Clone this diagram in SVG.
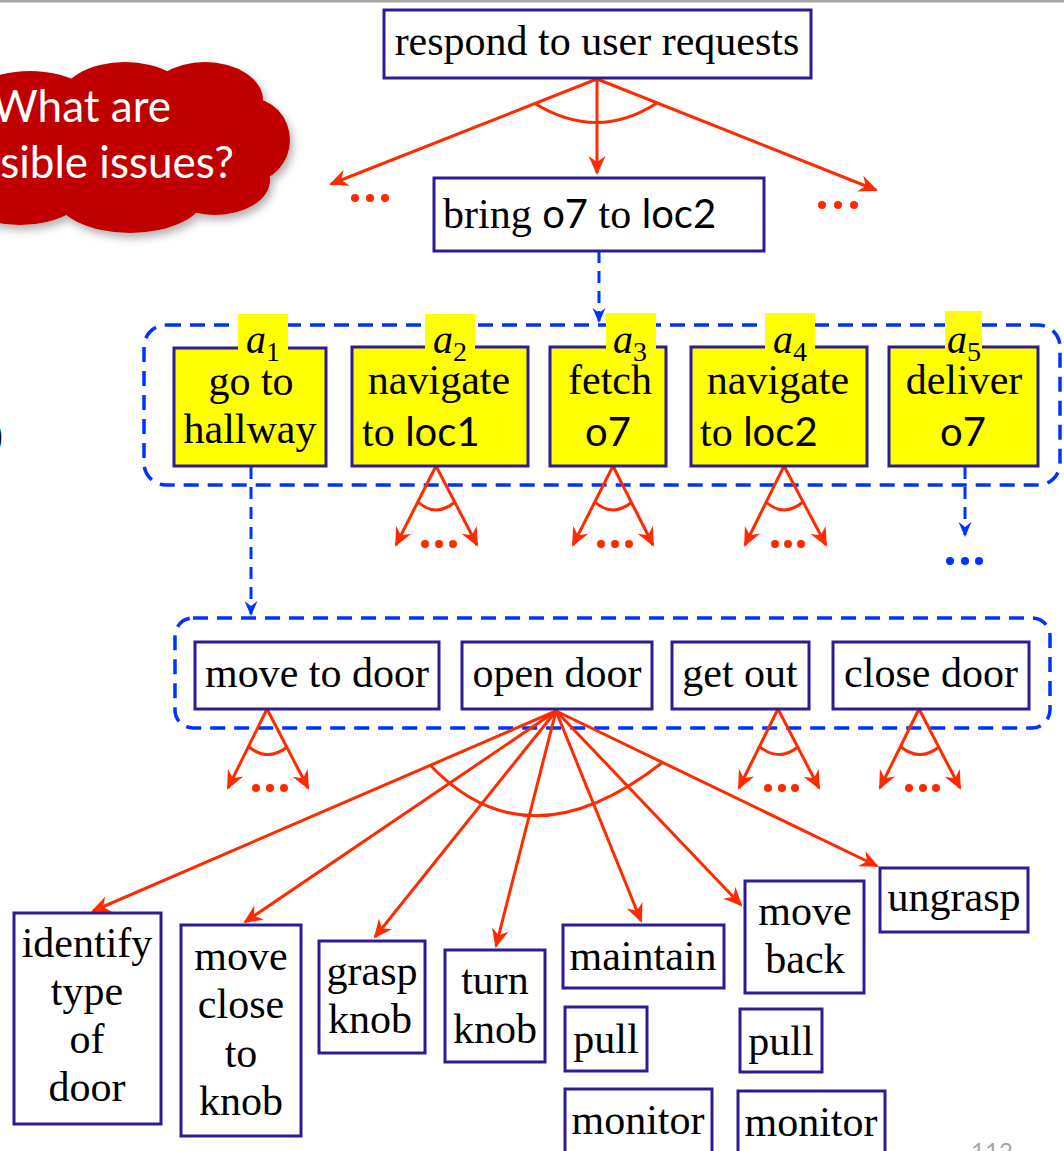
<svg xmlns="http://www.w3.org/2000/svg" width="1064" height="1151" viewBox="0 0 1064 1151">
  <style>
    .box { fill: #ffffff; stroke: #2e1c96; stroke-width: 3; }
    .ybox { fill: #ffff00; stroke: #2e1c96; stroke-width: 3; }
    .tab { fill: #ffff00; }
    .t { font-family: "Liberation Serif", "Times New Roman", serif; font-size: 42px; fill: #000; }
    .c { text-anchor: middle; }
    .s { font-family: Lato, "Liberation Sans", sans-serif; font-size: 40px; }
    .lab { font-family: "Liberation Serif", serif; font-size: 40px; fill: #000; }
    .red { stroke: #ff2a00; stroke-width: 3; fill: none; }
    .arr { marker-end: url(#ahR); }
    .dots { fill: #ff2a00; }
    .bdots { fill: #0033ff; }
    .blue { stroke: #0033ff; stroke-width: 3.5; fill: none; stroke-dasharray: 15 9; }
    .barr { stroke: #0033ff; stroke-width: 3; fill: none; stroke-dasharray: 12 8; marker-end: url(#ahB); }
    .cloudtxt { font-family: Lato, "Liberation Sans", sans-serif; font-size: 44px; fill: #ffffff; text-anchor: end; }
  </style>
  <defs>
    <marker id="ahR" markerUnits="userSpaceOnUse" markerWidth="26" markerHeight="22" viewBox="-20 -11 24 22" refX="0" refY="0" orient="auto">
      <path d="M2,0 L-17,-8.5 L-11,0 L-17,8.5 Z" fill="#ff2a00"/>
    </marker>
    <marker id="ahB" markerUnits="userSpaceOnUse" markerWidth="22" markerHeight="18" viewBox="-16 -9 20 18" refX="0" refY="0" orient="auto">
      <path d="M2,0 L-13,-6.5 L-8,0 L-13,6.5 Z" fill="#0033ff"/>
    </marker>
    <filter id="shadow" x="-20%" y="-20%" width="140%" height="150%">
      <feDropShadow dx="3" dy="5" stdDeviation="4" flood-color="#000" flood-opacity="0.3"/>
    </filter>
  </defs>

  <rect x="0" y="0" width="1064" height="1151" fill="#ffffff"/>
  <rect x="0" y="0" width="1064" height="2.5" fill="#a6a6a6"/>

  <!-- callout cloud -->
  <g id="cloud">
    <g fill="#c00000" filter="url(#shadow)">
      <ellipse cx="30" cy="118" rx="75" ry="47"/>
      <ellipse cx="125" cy="100" rx="65" ry="38"/>
      <ellipse cx="205" cy="100" rx="58" ry="38"/>
      <ellipse cx="250" cy="140" rx="40" ry="42"/>
      <ellipse cx="215" cy="180" rx="55" ry="35"/>
      <ellipse cx="130" cy="195" rx="75" ry="38"/>
      <ellipse cx="20" cy="185" rx="70" ry="40"/>
      <rect x="0" y="100" width="250" height="100"/>
    </g>
    <text class="cloudtxt" x="171" y="122">What are</text>
    <text class="cloudtxt" x="234" y="178">sible issues?</text>
  </g>

  <text class="t" x="-11" y="448">)</text>

  <!-- containers -->
  <g id="plan-container">
    <rect x="144" y="325" width="916" height="160" rx="22" fill="#ffff00" class="blue"/>
  </g>
  <g id="refine-container">
    <rect x="175" y="618" width="875" height="110" rx="18" class="blue"/>
  </g>

  <!-- connectors -->
  <g id="connectors">
    <!-- top method -->
    <line class="red arr" x1="597" y1="79" x2="331" y2="184"/>
    <line class="red arr" x1="597" y1="79" x2="597" y2="173"/>
    <line class="red arr" x1="597" y1="79" x2="876" y2="190"/>
    <path class="red" d="M534,103 Q597,142 657,103"/>
    <circle class="dots" cx="355" cy="198" r="4"/><circle class="dots" cx="370" cy="198" r="4"/><circle class="dots" cx="385" cy="198" r="4"/>
    <circle class="dots" cx="822" cy="205" r="4"/><circle class="dots" cx="838" cy="205" r="4"/><circle class="dots" cx="854" cy="205" r="4"/>

    <line class="barr" x1="599" y1="251" x2="599" y2="321"/>

    <!-- fans under a2, a3, a4 -->
    <line class="red arr" x1="436" y1="466" x2="396" y2="545"/>
    <line class="red arr" x1="436" y1="466" x2="477" y2="545"/>
    <path class="red" d="M418,502 Q436,518 455,502"/>
    <circle class="dots" cx="425" cy="544" r="4"/><circle class="dots" cx="439" cy="544" r="4"/><circle class="dots" cx="453" cy="544" r="4"/>

    <line class="red arr" x1="613" y1="466" x2="573" y2="545"/>
    <line class="red arr" x1="613" y1="466" x2="653" y2="545"/>
    <path class="red" d="M595,502 Q613,518 632,502"/>
    <circle class="dots" cx="601" cy="544" r="4"/><circle class="dots" cx="615" cy="544" r="4"/><circle class="dots" cx="629" cy="544" r="4"/>

    <line class="red arr" x1="784" y1="466" x2="745" y2="545"/>
    <line class="red arr" x1="784" y1="466" x2="826" y2="545"/>
    <path class="red" d="M766,502 Q784,518 803,502"/>
    <circle class="dots" cx="775" cy="544" r="4"/><circle class="dots" cx="788" cy="544" r="4"/><circle class="dots" cx="801" cy="544" r="4"/>

    <!-- a5 continues -->
    <line class="barr" x1="965" y1="467" x2="965" y2="535"/>
    <circle class="bdots" cx="950" cy="561" r="4"/><circle class="bdots" cx="965" cy="561" r="4"/><circle class="bdots" cx="979" cy="561" r="4"/>

    <!-- a1 refinement -->
    <line class="barr" x1="251" y1="467" x2="251" y2="614"/>

    <!-- fans under move to door, get out, close door -->
    <line class="red arr" x1="267" y1="709" x2="228" y2="788"/>
    <line class="red arr" x1="267" y1="709" x2="308" y2="788"/>
    <path class="red" d="M249,747 Q268,762 287,747"/>
    <circle class="dots" cx="256" cy="788" r="4"/><circle class="dots" cx="270" cy="788" r="4"/><circle class="dots" cx="284" cy="788" r="4"/>

    <line class="red arr" x1="778" y1="709" x2="739" y2="788"/>
    <line class="red arr" x1="778" y1="709" x2="819" y2="788"/>
    <path class="red" d="M760,747 Q779,762 798,747"/>
    <circle class="dots" cx="768" cy="788" r="4"/><circle class="dots" cx="782" cy="788" r="4"/><circle class="dots" cx="795" cy="788" r="4"/>

    <line class="red arr" x1="919" y1="709" x2="880" y2="788"/>
    <line class="red arr" x1="919" y1="709" x2="960" y2="788"/>
    <path class="red" d="M901,747 Q920,762 939,747"/>
    <circle class="dots" cx="909" cy="788" r="4"/><circle class="dots" cx="923" cy="788" r="4"/><circle class="dots" cx="936" cy="788" r="4"/>

    <!-- open door method -->
    <line class="red arr" x1="556" y1="711" x2="93" y2="911"/>
    <line class="red arr" x1="556" y1="711" x2="245" y2="922"/>
    <line class="red arr" x1="556" y1="711" x2="375" y2="937"/>
    <line class="red arr" x1="556" y1="711" x2="496" y2="946"/>
    <line class="red arr" x1="556" y1="711" x2="641" y2="921"/>
    <line class="red arr" x1="556" y1="711" x2="741" y2="905"/>
    <line class="red arr" x1="556" y1="711" x2="877" y2="866"/>
    <path class="red" d="M430,765 Q528,868 663,762"/>
  </g>

  <!-- nodes -->
  <g id="n-respond">
    <rect class="box" x="384" y="10" width="427" height="68"/>
    <text class="t c" x="597" y="55">respond to user requests</text>
  </g>
  <g id="n-bring">
    <rect class="box" x="434" y="178" width="330" height="73"/>
    <text class="t" x="443" y="228"><tspan>bring </tspan><tspan class="s">o7</tspan><tspan> to </tspan><tspan class="s">loc2</tspan></text>
  </g>

  <g id="n-a1">
    <rect class="ybox" x="174" y="348" width="152" height="118"/>
    <rect class="tab" x="238" y="314" width="50" height="38"/>
    <text class="lab" x="246" y="353"><tspan font-style="italic">a</tspan><tspan font-size="28" dy="8">1</tspan></text>
    <text class="t c" x="251" y="395">go to</text>
    <text class="t c" x="250" y="443">hallway</text>
  </g>
  <g id="n-a2">
    <rect class="ybox" x="352" y="347" width="176" height="119"/>
    <rect class="tab" x="425" y="314" width="50" height="37"/>
    <text class="lab" x="433" y="353"><tspan font-style="italic">a</tspan><tspan font-size="28" dy="8">2</tspan></text>
    <text class="t c" x="439" y="394">navigate</text>
    <text class="t" x="362" y="446"><tspan>to </tspan><tspan class="s">loc1</tspan></text>
  </g>
  <g id="n-a3">
    <rect class="ybox" x="550" y="347" width="116" height="119"/>
    <rect class="tab" x="606" y="313" width="50" height="38"/>
    <text class="lab" x="613" y="353"><tspan font-style="italic">a</tspan><tspan font-size="28" dy="8">3</tspan></text>
    <text class="t c" x="610" y="394">fetch</text>
    <text class="t c s" x="608" y="446">o7</text>
  </g>
  <g id="n-a4">
    <rect class="ybox" x="691" y="347" width="176" height="119"/>
    <rect class="tab" x="765" y="313" width="50" height="38"/>
    <text class="lab" x="773" y="353"><tspan font-style="italic">a</tspan><tspan font-size="28" dy="8">4</tspan></text>
    <text class="t c" x="778" y="394">navigate</text>
    <text class="t" x="700" y="446"><tspan>to </tspan><tspan class="s">loc2</tspan></text>
  </g>
  <g id="n-a5">
    <rect class="ybox" x="889" y="347" width="149" height="119"/>
    <rect class="tab" x="945" y="311" width="37" height="40"/>
    <text class="lab" x="947" y="353"><tspan font-style="italic">a</tspan><tspan font-size="28" dy="8">5</tspan></text>
    <text class="t c" x="964" y="394">deliver</text>
    <text class="t c s" x="963" y="446">o7</text>
  </g>

  <g id="n-move-to-door">
    <rect class="box" x="195" y="642" width="244" height="67"/>
    <text class="t c" x="317" y="687">move to door</text>
  </g>
  <g id="n-open-door">
    <rect class="box" x="462" y="642" width="190" height="67"/>
    <text class="t c" x="557" y="687">open door</text>
  </g>
  <g id="n-get-out">
    <rect class="box" x="672" y="642" width="137" height="67"/>
    <text class="t c" x="740" y="687">get out</text>
  </g>
  <g id="n-close-door">
    <rect class="box" x="833" y="642" width="196" height="67"/>
    <text class="t c" x="931" y="687">close door</text>
  </g>

  <g id="n-identify">
    <rect class="box" x="14" y="913" width="147" height="211"/>
    <text class="t c" x="87" y="957">identify</text>
    <text class="t c" x="87" y="1005">type</text>
    <text class="t c" x="87" y="1053">of</text>
    <text class="t c" x="87" y="1101">door</text>
  </g>
  <g id="n-move-close">
    <rect class="box" x="181" y="925" width="120" height="211"/>
    <text class="t c" x="241" y="970">move</text>
    <text class="t c" x="241" y="1018">close</text>
    <text class="t c" x="241" y="1067">to</text>
    <text class="t c" x="241" y="1115">knob</text>
  </g>
  <g id="n-grasp">
    <rect class="box" x="319" y="941" width="106" height="112"/>
    <text class="t c" x="372" y="985">grasp</text>
    <text class="t c" x="370" y="1033">knob</text>
  </g>
  <g id="n-turn">
    <rect class="box" x="445" y="950" width="100" height="112"/>
    <text class="t c" x="495" y="994">turn</text>
    <text class="t c" x="495" y="1043">knob</text>
  </g>
  <g id="n-maintain">
    <rect class="box" x="563" y="925" width="161" height="63"/>
    <text class="t c" x="643" y="970">maintain</text>
  </g>
  <g id="n-pull-1">
    <rect class="box" x="565" y="1007" width="82" height="64"/>
    <text class="t c" x="606" y="1053">pull</text>
  </g>
  <g id="n-monitor-1">
    <rect class="box" x="565" y="1089" width="147" height="70"/>
    <text class="t c" x="638" y="1134">monitor</text>
  </g>
  <g id="n-move-back">
    <rect class="box" x="745" y="881" width="119" height="112"/>
    <text class="t c" x="805" y="925">move</text>
    <text class="t c" x="805" y="973">back</text>
  </g>
  <g id="n-pull-2">
    <rect class="box" x="740" y="1009" width="82" height="63"/>
    <text class="t c" x="781" y="1055">pull</text>
  </g>
  <g id="n-monitor-2">
    <rect class="box" x="738" y="1091" width="147" height="70"/>
    <text class="t c" x="811" y="1136">monitor</text>
  </g>
  <g id="n-ungrasp">
    <rect class="box" x="880" y="868" width="148" height="64"/>
    <text class="t c" x="954" y="911">ungrasp</text>
  </g>

  <text x="992" y="1160" font-family="Lato, 'Liberation Sans', sans-serif" font-size="24" fill="#a6a6a6" text-anchor="middle">112</text>
</svg>
